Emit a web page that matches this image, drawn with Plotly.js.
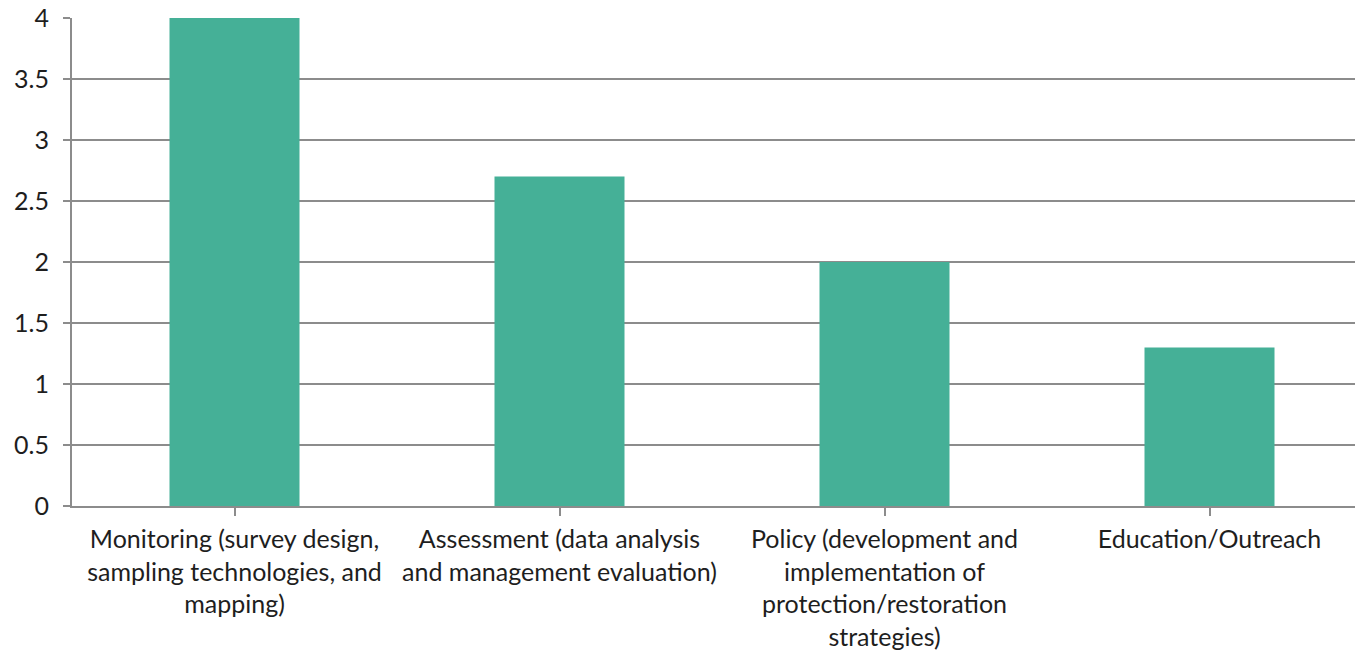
<!DOCTYPE html>
<html><head><meta charset="utf-8">
<script src="https://cdn.plot.ly/plotly-3.0.1.min.js"></script>
<style>html,body{margin:0;padding:0;background:#fff;}#chart{width:1355px;height:650px;}</style>
</head><body><div id="chart"></div>
<script>
const categories = ["Monitoring", "Assessment", "Policy", "Education/Outreach"];
const tickLabels = [
  "Monitoring (survey design,<br>sampling technologies, and<br>mapping)",
  "Assessment (data analysis<br>and management evaluation)",
  "Policy (development and<br>implementation of<br>protection/restoration<br>strategies)",
  "Education/Outreach"
];
const values = [4, 2.7, 2, 1.3];

const grid = "#8c8c8c";
const font = {family: "Lato, 'Open Sans', sans-serif", size: 25, color: "#1e1e1e"};

Plotly.newPlot("chart", [{
  type: "bar",
  x: [0, 1, 2, 3],
  y: values,
  width: 0.4,
  marker: {color: "#45B097"},
  hoverinfo: "skip"
}], {
  width: 1355, height: 650,
  margin: {l: 72, r: 0, t: 18, b: 144},
  paper_bgcolor: "#fff", plot_bgcolor: "#fff",
  font: font,
  showlegend: false,
  xaxis: {
    range: [-0.5, -0.5 + 1283/325],
    tickmode: "array", tickvals: [0, 1, 2, 3], ticktext: tickLabels,
    tickson: "boundaries",
    ticks: "outside", ticklen: 8, tickwidth: 2, tickcolor: grid,
    showline: true, linecolor: grid, linewidth: 2,
    showgrid: false, zeroline: false,
    ticklabelstandoff: 2,
    tickfont: font
  },
  yaxis: {
    range: [0, 4], dtick: 0.5, tick0: 0,
    ticks: "outside", ticklen: 7, tickwidth: 2, tickcolor: grid,
    showline: true, linecolor: grid, linewidth: 2,
    showgrid: true, gridcolor: grid, gridwidth: 2,
    zeroline: false,
    ticklabelstandoff: 9,
    tickfont: font
  }
}, {displayModeBar: false, staticPlot: true});
</script></body></html>
